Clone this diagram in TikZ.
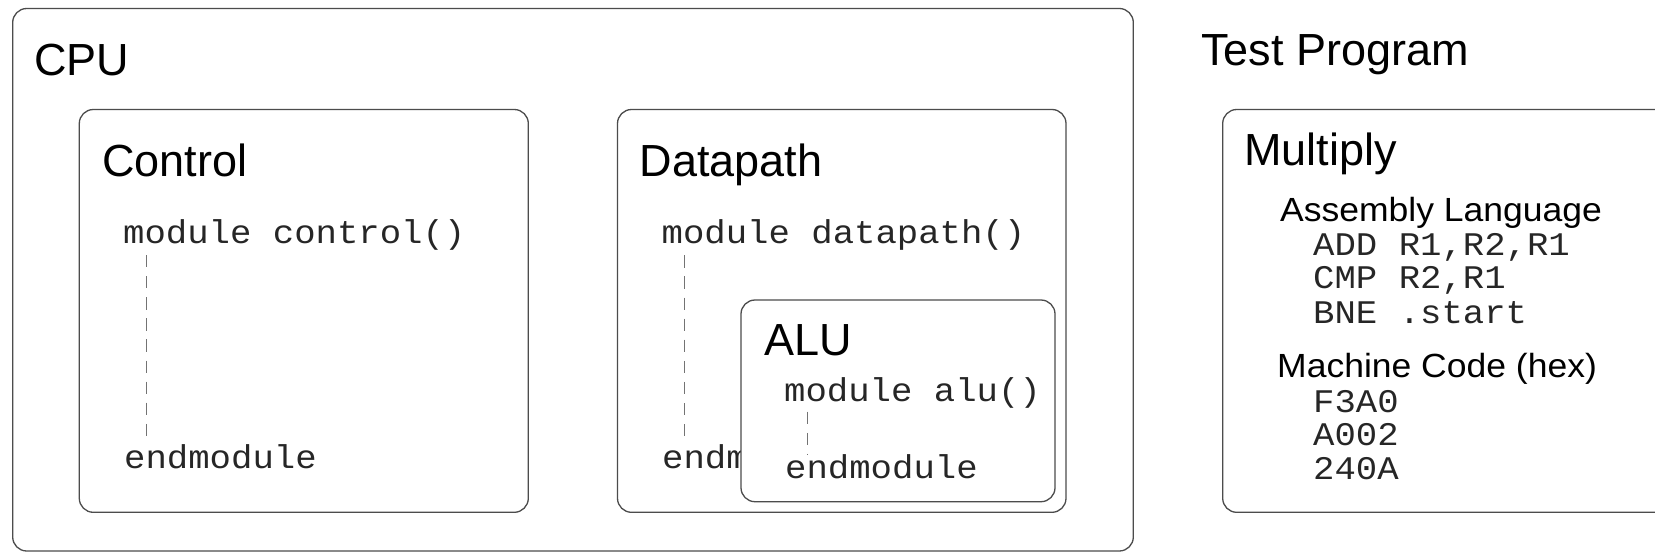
\documentclass[tikz,border=0pt]{standalone}
\usepackage{fontspec}
\setmainfont{Liberation Sans}
\newfontfamily\subfnt{Liberation Sans}[FakeStretch=1.06]
\newfontfamily\codefnt{Liberation Mono}[FakeStretch=1.08]
\begin{document}
\begin{tikzpicture}[x=1pt,y=-1pt,
  box/.style={draw=black!70, line width=1.3pt, rounded corners=14pt, fill=white},
  title/.style={anchor=base west, inner sep=0pt, font=\fontsize{45}{45}\selectfont},
  sub/.style={anchor=base west, inner sep=0pt, font=\subfnt\fontsize{33.5}{33.5}\selectfont},
  code/.style={anchor=base west, inner sep=0pt, text=black!85, font=\codefnt\fontsize{33}{33}\selectfont},
  codeline/.style={draw=black!55, line width=1pt, dash pattern=on 12.3pt off 8.8pt}]
\useasboundingbox (0,0) rectangle (1655,552);
\clip (0,0) rectangle (1655,552);
\fill[white] (0,0) rectangle (1655,552);

% CPU
\draw[box] (12.7,8.5) rectangle (1133.3,551);
\node[title] (cpu) at (34,75.5) {CPU};

% Control
\draw[box] (79.3,109.5) rectangle (528.3,512.3);
\node[title] (ctl) at (102,176) {Control};
\node[code] (mc) at (123,243) {module control()};
\node[code] (ec) at (124,468) {endmodule};
\draw[codeline] ([xshift=23.4pt,yshift=-12pt]mc.base west) -- ([xshift=22.4pt,yshift=26pt]ec.base west);

% Datapath (its closing text is hidden by the ALU box, as in the reference)
\draw[box] (617.5,109.5) rectangle (1066,512.3);
\node[title] (dp) at (639.5,176) {Datapath};
\node[code] (md) at (661.5,243.3) {module datapath()};
\node[code] (ed) at (662,468.3) {endm};
\draw[codeline] ([xshift=23.1pt,yshift=-12pt]md.base west) -- ([xshift=22.6pt,yshift=23.3pt]ed.base west);

% ALU
\draw[box] (741,300) rectangle (1055,501.7);
\node[title] (alu) at (764,355) {ALU};
\node[code] (ma) at (784,401.7) {module alu()};
\node[code] (ea) at (785,478.3) {endmodule};
\draw[codeline] ([xshift=23pt,yshift=-10pt]ma.base west) -- ([xshift=22pt,yshift=23.3pt]ea.base west);

% Test program
\node[title] (tp) at (1201,65) {Test Program};
\draw[box] (1222.7,109.5) rectangle (1720,512.3);
\node[title] (mul) at (1244,165.5) {Multiply};
\node[sub] (asm) at (1280,221) {Assembly Language};
\node[code] (i1) at (1313,255.3) {ADD R1,R2,R1};
\node[code] (i2) at (1313,288.7) {CMP R2,R1};
\node[code] (i3) at (1313,323) {BNE .start};
\node[sub] (mch) at (1277,377) {Machine Code (hex)};
\node[code] (h1) at (1313,412) {F3A0};
\node[code] (h2) at (1313,445.4) {A002};
\node[code] (h3) at (1313,479.6) {240A};
\end{tikzpicture}
\end{document}
